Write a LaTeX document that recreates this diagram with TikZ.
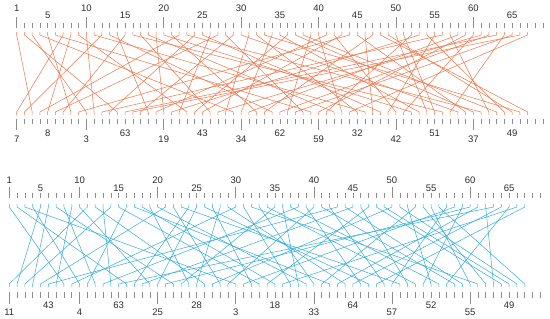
\documentclass[tikz,border=0pt]{standalone}
\usepackage{fontspec}
\setmainfont{Liberation Sans}
\usetikzlibrary{math}
\definecolor{myorange}{RGB}{236,118,76}
\definecolor{myblue}{RGB}{52,172,212}
\definecolor{mygray}{RGB}{140,140,140}
\definecolor{mytext}{RGB}{45,45,45}

% order of the lower rulers (value at each position)
\newcommand\permA{7,12,1,22,8,27,15,5,44,3,10,56,24,2,63,66,29,14,41,19,53,26,9,36,43,17,61,31,4,34,58,21,47,13,62,39,65,28,6,59,52,18,40,67,32,11,46,25,55,42,60,20,35,50,51,16,64,30,45,37,23,57,38,54,49,33,48}
\newcommand\permB{11,5,14,6,21,43,9,1,30,4,16,8,38,13,63,2,24,45,10,25,60,7,35,19,28,12,50,22,40,3,58,27,15,47,18,66,31,36,20,33,53,17,61,29,64,39,26,67,42,57,23,46,34,59,52,37,65,41,44,55,32,54,62,48,49,51,56}

\begin{document}
\begin{tikzpicture}[x=1pt,y=-1pt,
  tick/.style={draw=mygray,line width=0.6pt},
  num/.style={text=mytext,inner sep=0pt,font=\fontsize{9.5}{10}\selectfont},
  linkA/.style={draw=myorange,line width=0.5pt},
  linkB/.style={draw=myblue,line width=0.5pt}]
\useasboundingbox (0,0) rectangle (550,319);
\tikzmath{
\xA=16.7; \dA=7.74;
\xB=9.3; \dB=7.81;
}

%% upper panel
\foreach \p in {1,...,69}{
\draw[tick] ({\xA+(\p-1)*\dA},23) -- ({\xA+(\p-1)*\dA},27.5);
\draw[tick] ({\xA+(\p-1)*\dA},119) -- ({\xA+(\p-1)*\dA},124);
}
\foreach \p in {1,10,20,...,60}{
\draw[tick] ({\xA+(\p-1)*\dA},17) -- ({\xA+(\p-1)*\dA},23);
\draw[tick] ({\xA+(\p-1)*\dA},124) -- ({\xA+(\p-1)*\dA},130);
\node[num] (numA\p) at ({\xA+(\p-1)*\dA},8) {\p};
}
\foreach \p in {5,15,...,65}
\node[num] (numA\p) at ({\xA+(\p-1)*\dA},15) {\p};
\foreach \p/\t in {1/7,10/3,20/19,30/34,40/59,50/42,60/37}
\node[num] (labA\p) at ({\xA+(\p-1)*\dA},139) {\t};
\foreach \p/\t in {5/8,15/63,25/43,35/62,45/32,55/51,65/49}
\node[num] (labA\p) at ({\xA+(\p-1)*\dA},133) {\t};

\foreach \p in {1,...,67}{
\coordinate (topA\p) at ({\xA+(\p-1)*\dA},32);
\coordinate (topAs\p) at ({\xA+(\p-1)*\dA},35);
\coordinate (botAs\p) at ({\xA+(\p-1)*\dA},112);
\coordinate (botA\p) at ({\xA+(\p-1)*\dA},115);
}
\foreach \v [count=\p] in \permA
\draw[linkA] (topA\v) -- (topAs\v) -- (botAs\p) -- (botA\p);

%% lower panel
\foreach \p in {1,...,69}{
\draw[tick] ({\xB+(\p-1)*\dB},193) -- ({\xB+(\p-1)*\dB},198);
\draw[tick] ({\xB+(\p-1)*\dB},292) -- ({\xB+(\p-1)*\dB},297.5);
}
\foreach \p in {1,10,20,...,60}{
\draw[tick] ({\xB+(\p-1)*\dB},187) -- ({\xB+(\p-1)*\dB},193);
\draw[tick] ({\xB+(\p-1)*\dB},297) -- ({\xB+(\p-1)*\dB},304);
\node[num] (numB\p) at ({\xB+(\p-1)*\dB},180) {\p};
}
\foreach \p in {5,15,...,65}
\node[num] (numB\p) at ({\xB+(\p-1)*\dB},188) {\p};
\foreach \p/\t in {1/11,10/4,20/25,30/3,40/33,50/57,60/55}
\node[num] (labB\p) at ({\xB+(\p-1)*\dB},312) {\t};
\foreach \p/\t in {6/43,15/63,25/28,35/18,45/64,55/52,65/49}
\node[num] (labB\p) at ({\xB+(\p-1)*\dB},305) {\t};

\foreach \p in {1,...,67}{
\coordinate (topB\p) at ({\xB+(\p-1)*\dB},204);
\coordinate (topBs\p) at ({\xB+(\p-1)*\dB},207);
\coordinate (botBs\p) at ({\xB+(\p-1)*\dB},284);
\coordinate (botB\p) at ({\xB+(\p-1)*\dB},287);
}
\foreach \v [count=\p] in \permB
\draw[linkB] (topB\v) -- (topBs\v) -- (botBs\p) -- (botB\p);
\end{tikzpicture}
\end{document}
